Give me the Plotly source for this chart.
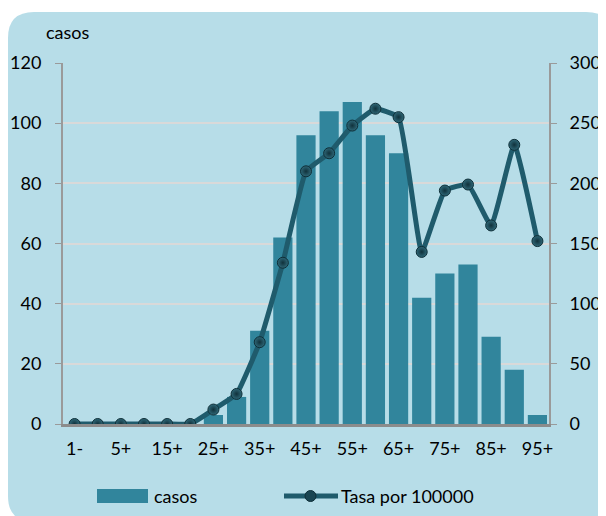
import plotly.graph_objects as go

categories = ["1-", "1+", "5+", "10+", "15+", "20+", "25+", "30+", "35+", "40+",
              "45+", "50+", "55+", "60+", "65+", "70+", "75+", "80+", "85+", "90+", "95+"]
casos = [0, 0, 0, 0, 0, 0, 3, 9, 31, 62, 96, 104, 107, 96, 90, 42, 50, 53, 29, 18, 3]
tasa = [0, 0, 0, 0, 0, 0, 12, 25, 68, 134, 210, 225, 248, 262, 255, 143, 194, 199, 165, 232, 152]
tick_labels = categories[::2]

# page offset (body margin)
OX, OY = 8, 8
W, H = 606 - OX, 516 - OY
PL, PR, PT, PB = 63, 549, 63, 424          # plot area in page pixels
ML, MR, MT, MB = PL - OX, W - (PR - OX), PT - OY, H - (PB - OY)
PW, PH = PR - PL, PB - PT

def px(x):
    return (x - PL) / PW

def py(y):
    return (PB - y) / PH

FONT = "Lato"
PANEL = "#b7dde8"
BAR = "#31859c"
LINE = "#1f5b6c"
MARK = "#2f6878"
MARK_EDGE = "#10313b"

fig = go.Figure()
fig.add_trace(go.Bar(x=categories, y=casos, name="casos", marker=dict(color=BAR, line=dict(width=0)),
                     yaxis="y", showlegend=False))
fig.add_trace(go.Scatter(x=categories, y=tasa, name="Tasa por 100000", yaxis="y2",
                         mode="lines+markers", line=dict(color=LINE, width=5, shape="spline", smoothing=0.35),
                         marker=dict(size=11, color=MARK, gradient=dict(type="radial", color=MARK_EDGE),
                                     line=dict(color="#0f2f38", width=1)),
                         showlegend=False))

# rounded panel
x0, x1, y0, y1, r = 8, 612, 12, 522, 26
path = (f"M {px(x0)},{py(y0 + r)} Q {px(x0)},{py(y0)} {px(x0 + r)},{py(y0)} "
        f"L {px(x1 - r)},{py(y0)} Q {px(x1)},{py(y0)} {px(x1)},{py(y0 + r)} "
        f"L {px(x1)},{py(y1 - r)} Q {px(x1)},{py(y1)} {px(x1 - r)},{py(y1)} "
        f"L {px(x0 + r)},{py(y1)} Q {px(x0)},{py(y1)} {px(x0)},{py(y1 - r)} Z")
shapes = [dict(type="path", path=path, xref="paper", yref="paper", fillcolor=PANEL,
               line=dict(width=0), layer="below")]

# legend (manual)
ly = py(496)
shapes.append(dict(type="rect", xref="paper", yref="paper", x0=px(97), x1=px(148),
                   y0=py(503), y1=py(489), fillcolor=BAR, line=dict(width=0)))
shapes.append(dict(type="line", xref="paper", yref="paper", x0=px(284), x1=px(338),
                   y0=ly, y1=ly, line=dict(color=LINE, width=5)))
shapes.append(dict(type="circle", xref="paper", yref="paper", x0=px(305), x1=px(316),
                   y0=py(501.5), y1=py(490.5), fillcolor="#1a4552", line=dict(color="#0f2f38", width=1)))

annotations = [
    dict(text="casos", xref="paper", yref="paper", x=px(44), y=py(32), xanchor="left", yanchor="middle",
         showarrow=False, font=dict(family=FONT, size=18, color="#000")),
    dict(text="casos", xref="paper", yref="paper", x=px(152), y=ly, xanchor="left", yanchor="middle",
         showarrow=False, font=dict(family=FONT, size=18, color="#000")),
    dict(text="Tasa por 100000", xref="paper", yref="paper", x=px(339), y=ly, xanchor="left", yanchor="middle",
         showarrow=False, font=dict(family=FONT, size=18, color="#000")),
]

axis_font = dict(family=FONT, size=18, color="#000")
fig.update_layout(
    width=W, height=H, margin=dict(l=ML, r=MR, t=MT, b=MB, autoexpand=False),
    paper_bgcolor="white", plot_bgcolor="#f4fafb",
    bargap=0.17, shapes=shapes, annotations=annotations,
    xaxis=dict(type="category", tickmode="array", tickvals=tick_labels, ticktext=tick_labels,
               tickfont=axis_font, showgrid=False, showline=True, linecolor="#8c8c8c", linewidth=3,
               ticks="", ticklabelstandoff=6, range=[-0.5, len(categories) - 0.5]),
    yaxis=dict(range=[0, 120], dtick=20, tickfont=axis_font, showgrid=True, gridcolor="#d9d9d9",
               gridwidth=1.5, showline=True, linecolor="#9a9a9a", linewidth=2, ticks="outside",
               ticklen=6, tickcolor="#9a9a9a", ticklabelstandoff=10, zeroline=False),
    yaxis2=dict(range=[0, 300], dtick=50, overlaying="y", side="right", tickfont=axis_font,
                showgrid=False, showline=True, linecolor="#9a9a9a", linewidth=2, ticks="outside",
                ticklen=6, tickcolor="#9a9a9a", ticklabelstandoff=9, zeroline=False),
)

fig.write_html("out.html")
